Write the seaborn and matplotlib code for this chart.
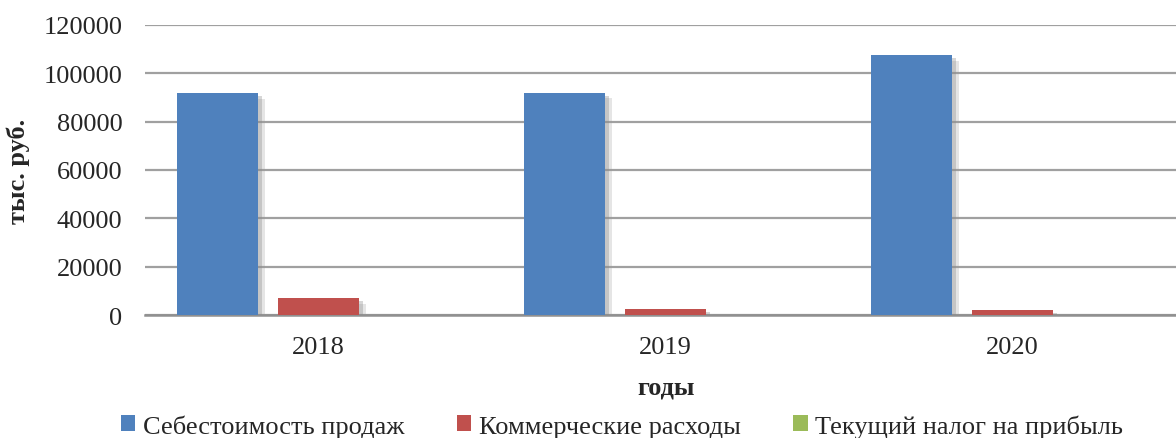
import matplotlib
matplotlib.use("Agg")
import matplotlib.pyplot as plt
import matplotlib.patheffects as pe
import seaborn as sns
import pandas as pd

years = ["2018", "2019", "2020"]
series = ["Себестоимость продаж", "Коммерческие расходы", "Текущий налог на прибыль"]
cost_of_sales = [91800, 91900, 107500]
commercial = [6900, 2600, 2200]
income_tax = [0, 0, 0]
colors = ["#4F81BD", "#C0504D", "#9BBB59"]

rows = []
for name, vals in zip(series, [cost_of_sales, commercial, income_tax]):
    for y, v in zip(years, vals):
        rows.append({"year": y, "series": name, "value": v})
df = pd.DataFrame(rows)

sns.set_style("white")
plt.rcParams["font.family"] = ["Liberation Serif", "DejaVu Serif"]

FS = 19
fig = plt.figure(figsize=(11.76, 4.39), dpi=100)
ax = fig.add_axes([0.1235, 0.28, 0.885, 0.661])

sns.barplot(data=df, x="year", y="value", hue="series", palette=colors,
            width=0.873, gap=0.198, ax=ax, saturation=1, edgecolor="none",
            legend=True)

for p in ax.patches:
    p.set_zorder(3)
    if p.get_height() > 0:
        p.set_path_effects([
            pe.SimplePatchShadow(offset=(5, -4), shadow_rgbFace="#9a9a9a", alpha=0.25),
            pe.SimplePatchShadow(offset=(3, -2), shadow_rgbFace="#8a8a8a", alpha=0.35),
            pe.Normal()])

ax.set_ylim(0, 120000)
ax.set_xlim(-0.5, 2.5)
ax.set_yticks(range(0, 120001, 20000))
ax.yaxis.grid(True, color="#A0A0A0", linewidth=1.6, zorder=0)
ax.set_axisbelow(True)
for s in ["top", "right", "left"]:
    ax.spines[s].set_visible(False)
ax.spines["bottom"].set_color("#909090")
ax.spines["bottom"].set_linewidth(1.8)
ax.tick_params(axis="y", length=0, pad=16.5, labelsize=FS)
ax.tick_params(axis="x", length=0, pad=15, labelsize=FS)

ax.set_xlabel("годы", fontsize=FS, fontweight="bold", labelpad=13)
ax.set_ylabel("тыс. руб.", fontsize=FS, fontweight="bold", labelpad=9.5)

handles, labels = ax.get_legend_handles_labels()
leg = ax.legend(handles, labels, loc="upper center", bbox_to_anchor=(0.458, -0.305),
                ncol=3, frameon=False, fontsize=FS, handlelength=0.55, handleheight=0.55,
                handletextpad=0.28, columnspacing=2.0, borderaxespad=0)

fig.savefig("out.png", dpi=100)
